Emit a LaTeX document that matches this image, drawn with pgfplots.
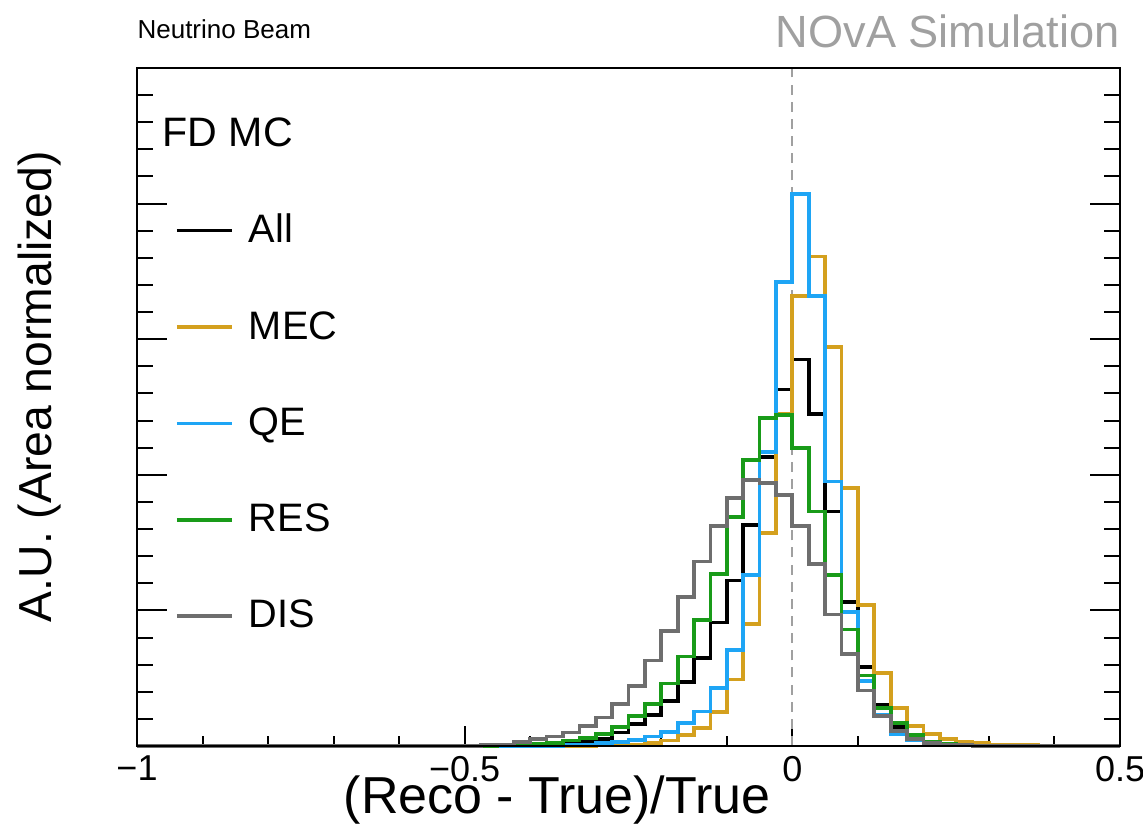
\documentclass[border=0pt]{standalone}
\usepackage{fontspec}
\setmainfont{Liberation Sans}
\usepackage{pgfplots}
\pgfplotsset{compat=1.18}
\definecolor{cAll}{RGB}{0,0,0}
\definecolor{cMEC}{RGB}{212,160,30}
\definecolor{cQE}{RGB}{30,165,245}
\definecolor{cRES}{RGB}{25,155,25}
\definecolor{cDIS}{RGB}{110,110,110}
\definecolor{cNova}{RGB}{160,160,160}
\begin{document}
\begin{tikzpicture}
\pgfplotsset{
  common/.style={
    width=344.05pt, height=237.3pt, scale only axis,
    xmin=-1, xmax=0.5, ymin=0, ymax=5,
    axis line style={line width=1pt},
    every tick/.style={black, line width=0.7pt},
    tick align=inside,
  }
}
\begin{axis}[common, name=ax, clip=false,
  xtick={-1,-0.5,0,0.5}, xticklabels={−1,−0.5,0,0.5},
  minor x tick num=4, xtick pos=bottom,
  major tick length=7pt, minor tick length=3.5pt,
  ytick=\empty,
  tick label style={font=\fontsize{12.6}{14}\selectfont},
  xlabel={(Reco - True)/True}, ylabel={A.U. (Area normalized)},
  every axis x label/.style={at={(rel axis cs:0.4273,-0.1)}, anchor=base, font=\fontsize{18.2}{21}\selectfont},
  every axis y label/.style={at={(rel axis cs:-0.0988,0.53)}, rotate=90, anchor=center, font=\fontsize{16.2}{19}\selectfont},
  legend style={at={(rel axis cs:0.038,0.794)}, anchor=north west, draw=none, fill=none,
    font=\fontsize{13.9}{16}\selectfont, row sep=18.5pt, column sep=3.1pt, inner sep=0pt},
  legend cell align=left,
  legend image code/.code={\draw[#1] (0pt,0pt) -- (19.5pt,0pt);},
]
\addplot[forget plot, cNova, line width=0.7pt, dash pattern=on 3.5pt off 2.5pt] coordinates {(0,0) (0,5)};

\addplot[const plot, cAll, line width=1.3pt, line join=miter] coordinates {
(-1,0) (-0.45,0.003) (-0.425,0.005) (-0.4,0.008) (-0.375,0.012) (-0.35,0.02) (-0.325,0.035) (-0.3,0.05) (-0.275,0.10) (-0.25,0.16) (-0.225,0.23) (-0.2,0.33) (-0.175,0.47) (-0.15,0.65) (-0.125,0.91) (-0.1,1.22) (-0.075,1.63) (-0.05,2.13) (-0.025,2.63) (0,2.85) (0.025,2.45) (0.05,1.73) (0.075,1.06) (0.1,0.58) (0.125,0.30) (0.15,0.14) (0.175,0.07) (0.2,0.03) (0.225,0.01) (0.25,0.005) (0.275,0) (0.5,0)};
\addlegendentry{All}

\addplot[const plot, cMEC, line width=1.3pt, line join=miter] coordinates {
(-1,0) (-0.3,0.005) (-0.275,0.008) (-0.25,0.012) (-0.225,0.02) (-0.2,0.04) (-0.175,0.08) (-0.15,0.135) (-0.125,0.25) (-0.1,0.49) (-0.075,0.90) (-0.05,1.57) (-0.025,2.45) (0,3.32) (0.025,3.61) (0.05,2.94) (0.075,1.90) (0.1,1.04) (0.125,0.54) (0.15,0.28) (0.175,0.15) (0.2,0.09) (0.225,0.05) (0.25,0.03) (0.275,0.02) (0.3,0.012) (0.325,0.008) (0.35,0.005) (0.375,0.003) (0.4,0.002) (0.425,0.001) (0.45,0.001) (0.475,0.001) (0.5,0.001)};
\addlegendentry{MEC}

\addplot[const plot, cQE, line width=1.3pt, line join=miter] coordinates {
(-1,0) (-0.35,0.005) (-0.325,0.01) (-0.3,0.02) (-0.275,0.03) (-0.25,0.045) (-0.225,0.07) (-0.2,0.105) (-0.175,0.17) (-0.15,0.255) (-0.125,0.43) (-0.1,0.71) (-0.075,1.26) (-0.05,2.17) (-0.025,3.42) (0,4.07) (0.025,3.32) (0.05,1.95) (0.075,0.99) (0.1,0.48) (0.125,0.23) (0.15,0.09) (0.175,0.04) (0.2,0.02) (0.225,0.01) (0.25,0.005) (0.275,0.003) (0.3,0) (0.5,0)};
\addlegendentry{QE}

\addplot[const plot, cRES, line width=1.3pt, line join=miter] coordinates {
(-1,0) (-0.45,0.005) (-0.425,0.01) (-0.4,0.015) (-0.375,0.02) (-0.35,0.04) (-0.325,0.06) (-0.3,0.09) (-0.275,0.14) (-0.25,0.22) (-0.225,0.31) (-0.2,0.46) (-0.175,0.66) (-0.15,0.93) (-0.125,1.27) (-0.1,1.69) (-0.075,2.11) (-0.05,2.42) (-0.025,2.44) (0,2.20) (0.025,1.73) (0.05,1.26) (0.075,0.86) (0.1,0.52) (0.125,0.28) (0.15,0.17) (0.175,0.08) (0.2,0.03) (0.225,0.015) (0.25,0.005) (0.275,0) (0.5,0)};
\addlegendentry{RES}

\addplot[const plot, cDIS, line width=1.3pt, line join=miter] coordinates {
(-1,0) (-0.475,0.005) (-0.45,0.01) (-0.425,0.03) (-0.4,0.05) (-0.375,0.07) (-0.35,0.10) (-0.325,0.15) (-0.3,0.21) (-0.275,0.31) (-0.25,0.44) (-0.225,0.63) (-0.2,0.85) (-0.175,1.10) (-0.15,1.36) (-0.125,1.62) (-0.1,1.83) (-0.075,1.96) (-0.05,1.94) (-0.025,1.85) (0,1.62) (0.025,1.34) (0.05,0.97) (0.075,0.68) (0.1,0.41) (0.125,0.22) (0.15,0.11) (0.175,0.05) (0.2,0.02) (0.225,0.01) (0.25,0.005) (0.275,0) (0.5,0)};
\addlegendentry{DIS}

\node[anchor=base west, inner sep=0pt, yshift=10.2pt, font=\fontsize{9.1}{11}\selectfont] at (rel axis cs:0,1) {Neutrino Beam};
\node[anchor=base east, inner sep=0pt, yshift=7pt, text=cNova, font=\fontsize{15.8}{19}\selectfont] at (rel axis cs:1,1) {NOvA Simulation};
\node[anchor=base west, inner sep=0pt, xshift=8.75pt, yshift=-27.6pt, font=\fontsize{14.4}{17}\selectfont] at (rel axis cs:0,1) {FD MC};
\end{axis}
\begin{axis}[common, at={(ax.south west)}, anchor=south west,
  xtick=\empty, ytick={0,1,2,3,4,5}, yticklabels={}, minor y tick num=4,
  ytick pos=both, major tick length=10.5pt, minor tick length=5.6pt]
\end{axis}
\pgfresetboundingbox
\useasboundingbox ([xshift=-47.95pt,yshift=-29.05pt]ax.south west) rectangle ([xshift=8.05pt,yshift=23.8pt]ax.north east);
\end{tikzpicture}
\end{document}
